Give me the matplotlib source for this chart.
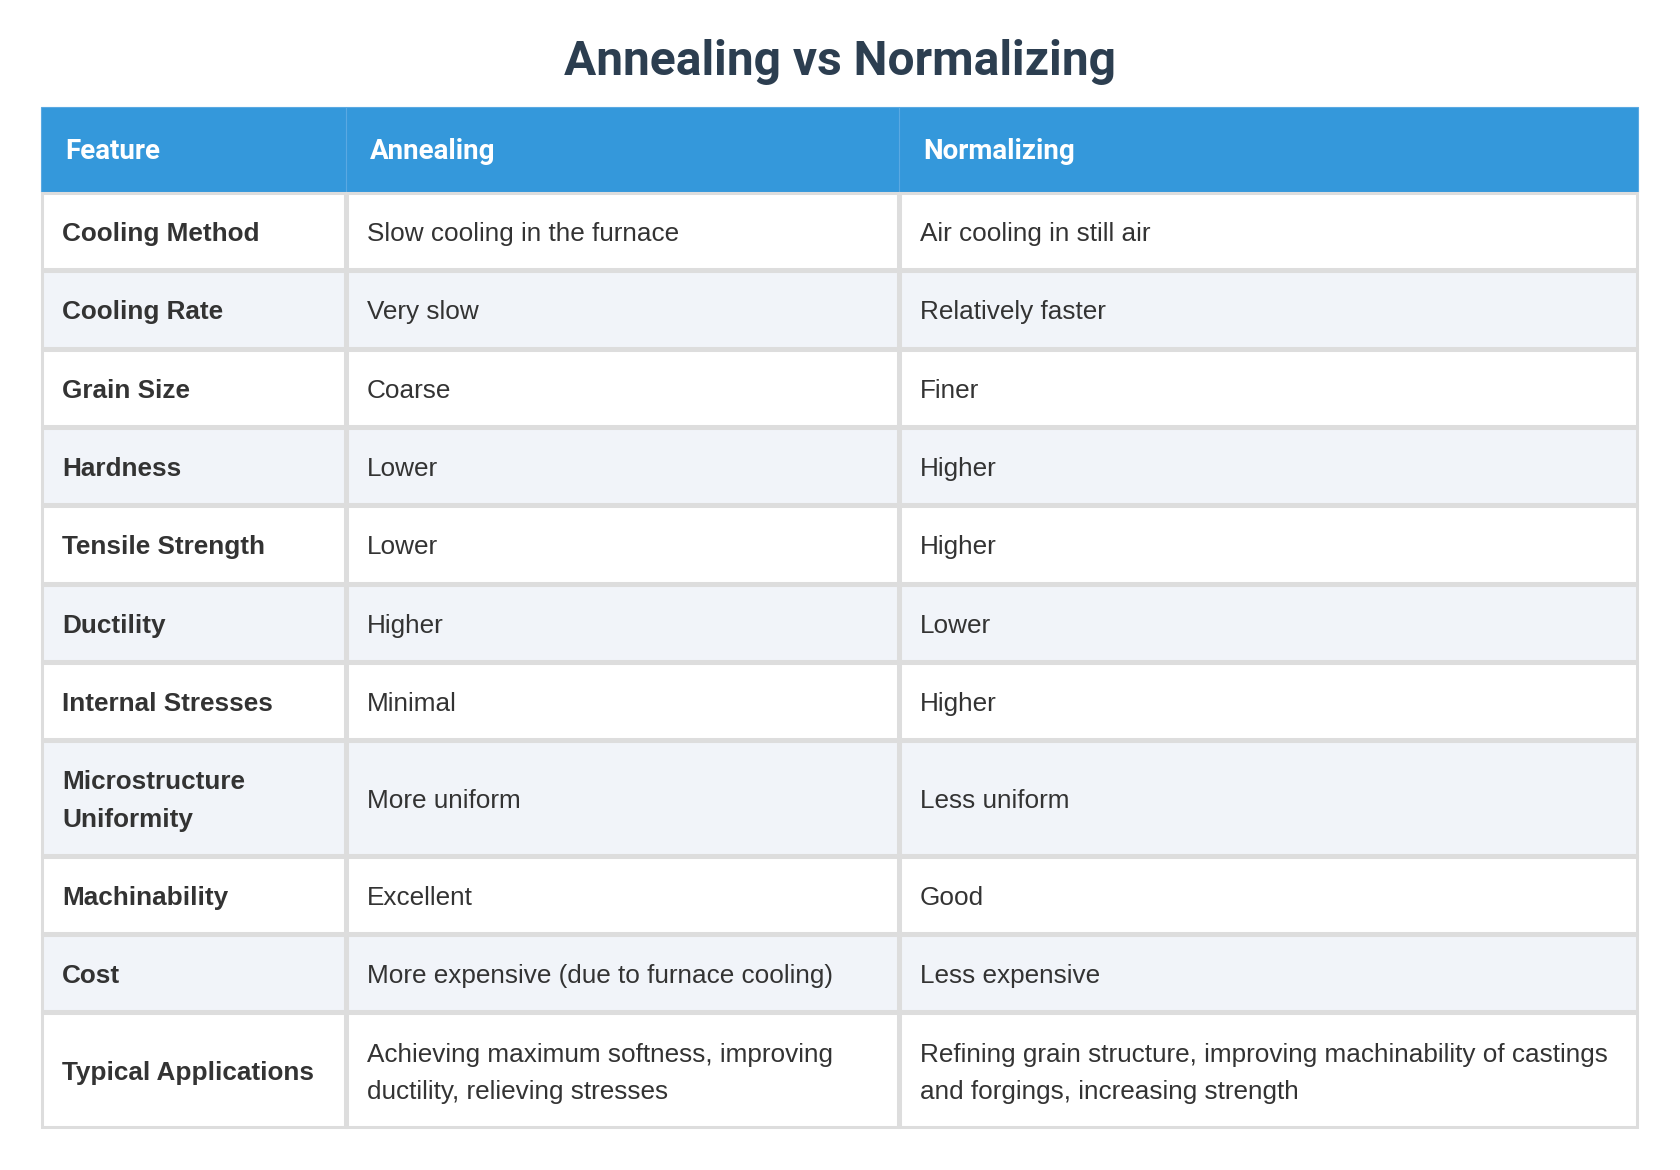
import matplotlib.pyplot as plt
from matplotlib.patches import Rectangle

# table content
title = "Annealing vs Normalizing"
headers = ["Feature", "Annealing", "Normalizing"]
features = ["Cooling Method", "Cooling Rate", "Grain Size", "Hardness",
            "Tensile Strength", "Ductility", "Internal Stresses",
            "Microstructure\nUniformity", "Machinability", "Cost",
            "Typical Applications"]
annealing = ["Slow cooling in the furnace", "Very slow", "Coarse", "Lower",
             "Lower", "Higher", "Minimal", "More uniform", "Excellent",
             "More expensive (due to furnace cooling)",
             "Achieving maximum softness, improving\nductility, relieving stresses"]
normalizing = ["Air cooling in still air", "Relatively faster", "Finer", "Higher",
               "Higher", "Lower", "Higher", "Less uniform", "Good",
               "Less expensive",
               "Refining grain structure, improving machinability of castings\nand forgings, increasing strength"]

W, H = 1680, 1170
fig = plt.figure(figsize=(W/100, H/100), dpi=100)
ax = fig.add_axes([0, 0, 1, 1])
ax.set_xlim(0, W)
ax.set_ylim(H, 0)
ax.axis('off')

#layout in pixels
colEdges = [41, 346, 899, 1638]
headTop, headBot = 107, 192
baseRow, extraLine = 78.3, 37.5
pad = 21
border = '#dddddd'
bodySize = 18.8

ax.text(W/2, 62, title, ha='center', va='center', fontsize=34.5,
        fontweight='bold', color='#2c3e50', family='Roboto')

#header
for c in range(3):
    ax.add_patch(Rectangle((colEdges[c], headTop), colEdges[c+1]-colEdges[c],
                           headBot-headTop, facecolor='#3498db',
                           edgecolor='#5aa9e2', lw=0.8))
    ax.text(colEdges[c]+pad+3, (headTop+headBot)/2+2, headers[c], ha='left',
            va='center', fontsize=20, fontweight='bold', color='white',
            family='Roboto')

#body rows
y = headBot
for r in range(len(features)):
    cells = [features[r], annealing[r], normalizing[r]]
    nLines = max(s.count('\n')+1 for s in cells)
    h = baseRow + (nLines-1)*extraLine
    bg = 'white' if r % 2 == 0 else '#f1f4f9'
    for c in range(3):
        ax.add_patch(Rectangle((colEdges[c]+1, y+1), colEdges[c+1]-colEdges[c]-2,
                               h-2, facecolor=bg, edgecolor=border, lw=2.2))
        ax.text(colEdges[c]+pad, y+h/2+3, cells[c], ha='left', va='center',
                fontsize=bodySize, color='#333333', linespacing=1.7,
                family='Liberation Sans',
                fontweight='bold' if c == 0 else 'normal')
    y += h

fig.savefig('out.png', dpi=100, facecolor='white')
